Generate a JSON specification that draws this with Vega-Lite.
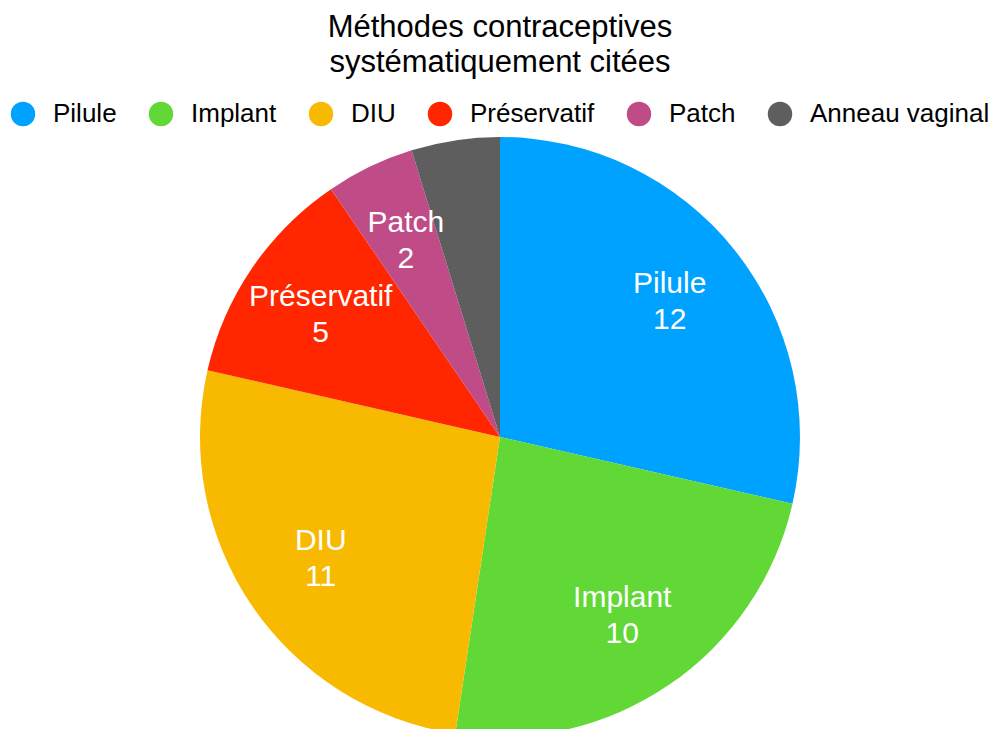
{
  "$schema": "https://vega.github.io/schema/vega-lite/v6.json",
  "autosize": {"type": "none"},
  "width": 1000,
  "height": 594,
  "padding": {"top": 140, "left": 0, "right": 0, "bottom": 0},
  "background": "white",
  "config": {
    "font": "Liberation Sans",
    "view": {"stroke": null}
  },
  "title": {
    "text": ["Méthodes contraceptives", "systématiquement citées"],
    "anchor": "middle",
    "frame": "group",
    "fontSize": 31,
    "fontWeight": "normal",
    "color": "#000000",
    "lineHeight": 35,
    "offset": 22
  },
  "data": {
    "values": [
      {"methode": "Pilule", "n": 12, "ordre": 1},
      {"methode": "Implant", "n": 10, "ordre": 2},
      {"methode": "DIU", "n": 11, "ordre": 3},
      {"methode": "Préservatif", "n": 5, "ordre": 4},
      {"methode": "Patch", "n": 2, "ordre": 5},
      {"methode": "Anneau vaginal", "n": 2, "ordre": 6}
    ]
  },
  "encoding": {
    "theta": {"field": "n", "type": "quantitative", "stack": true},
    "order": {"field": "ordre", "type": "quantitative"},
    "color": {
      "field": "methode",
      "type": "nominal",
      "sort": ["Pilule", "Implant", "DIU", "Préservatif", "Patch", "Anneau vaginal"],
      "scale": {
        "domain": ["Pilule", "Implant", "DIU", "Préservatif", "Patch", "Anneau vaginal"],
        "range": ["#00A2FF", "#61D836", "#F8BA00", "#FF2600", "#BF4B87", "#5E5E5E"]
      },
      "legend": {
        "title": null,
        "orient": "none",
        "legendX": 10,
        "legendY": -39,
        "direction": "horizontal",
        "columns": 6,
        "symbolType": "circle",
        "symbolSize": 600,
        "symbolStrokeWidth": 0,
        "symbolOpacity": 1,
        "labelFontSize": 26,
        "labelColor": "#000000",
        "labelOffset": 17,
        "labelLimit": 400,
        "columnPadding": 31,
        "padding": 0
      }
    }
  },
  "layer": [
    {
      "mark": {"type": "arc", "outerRadius": 300, "stroke": null}
    },
    {
      "transform": [{"filter": "datum.methode != 'Anneau vaginal'"}],
      "mark": {"type": "text", "radius": 217, "fontSize": 30, "color": "white", "dy": -18},
      "encoding": {
        "text": {"field": "methode", "type": "nominal"},
        "color": {"value": "white"}
      }
    },
    {
      "transform": [{"filter": "datum.methode != 'Anneau vaginal'"}],
      "mark": {"type": "text", "radius": 217, "fontSize": 30, "color": "white", "dy": 18},
      "encoding": {
        "text": {"field": "n", "type": "quantitative"},
        "color": {"value": "white"}
      }
    }
  ]
}
